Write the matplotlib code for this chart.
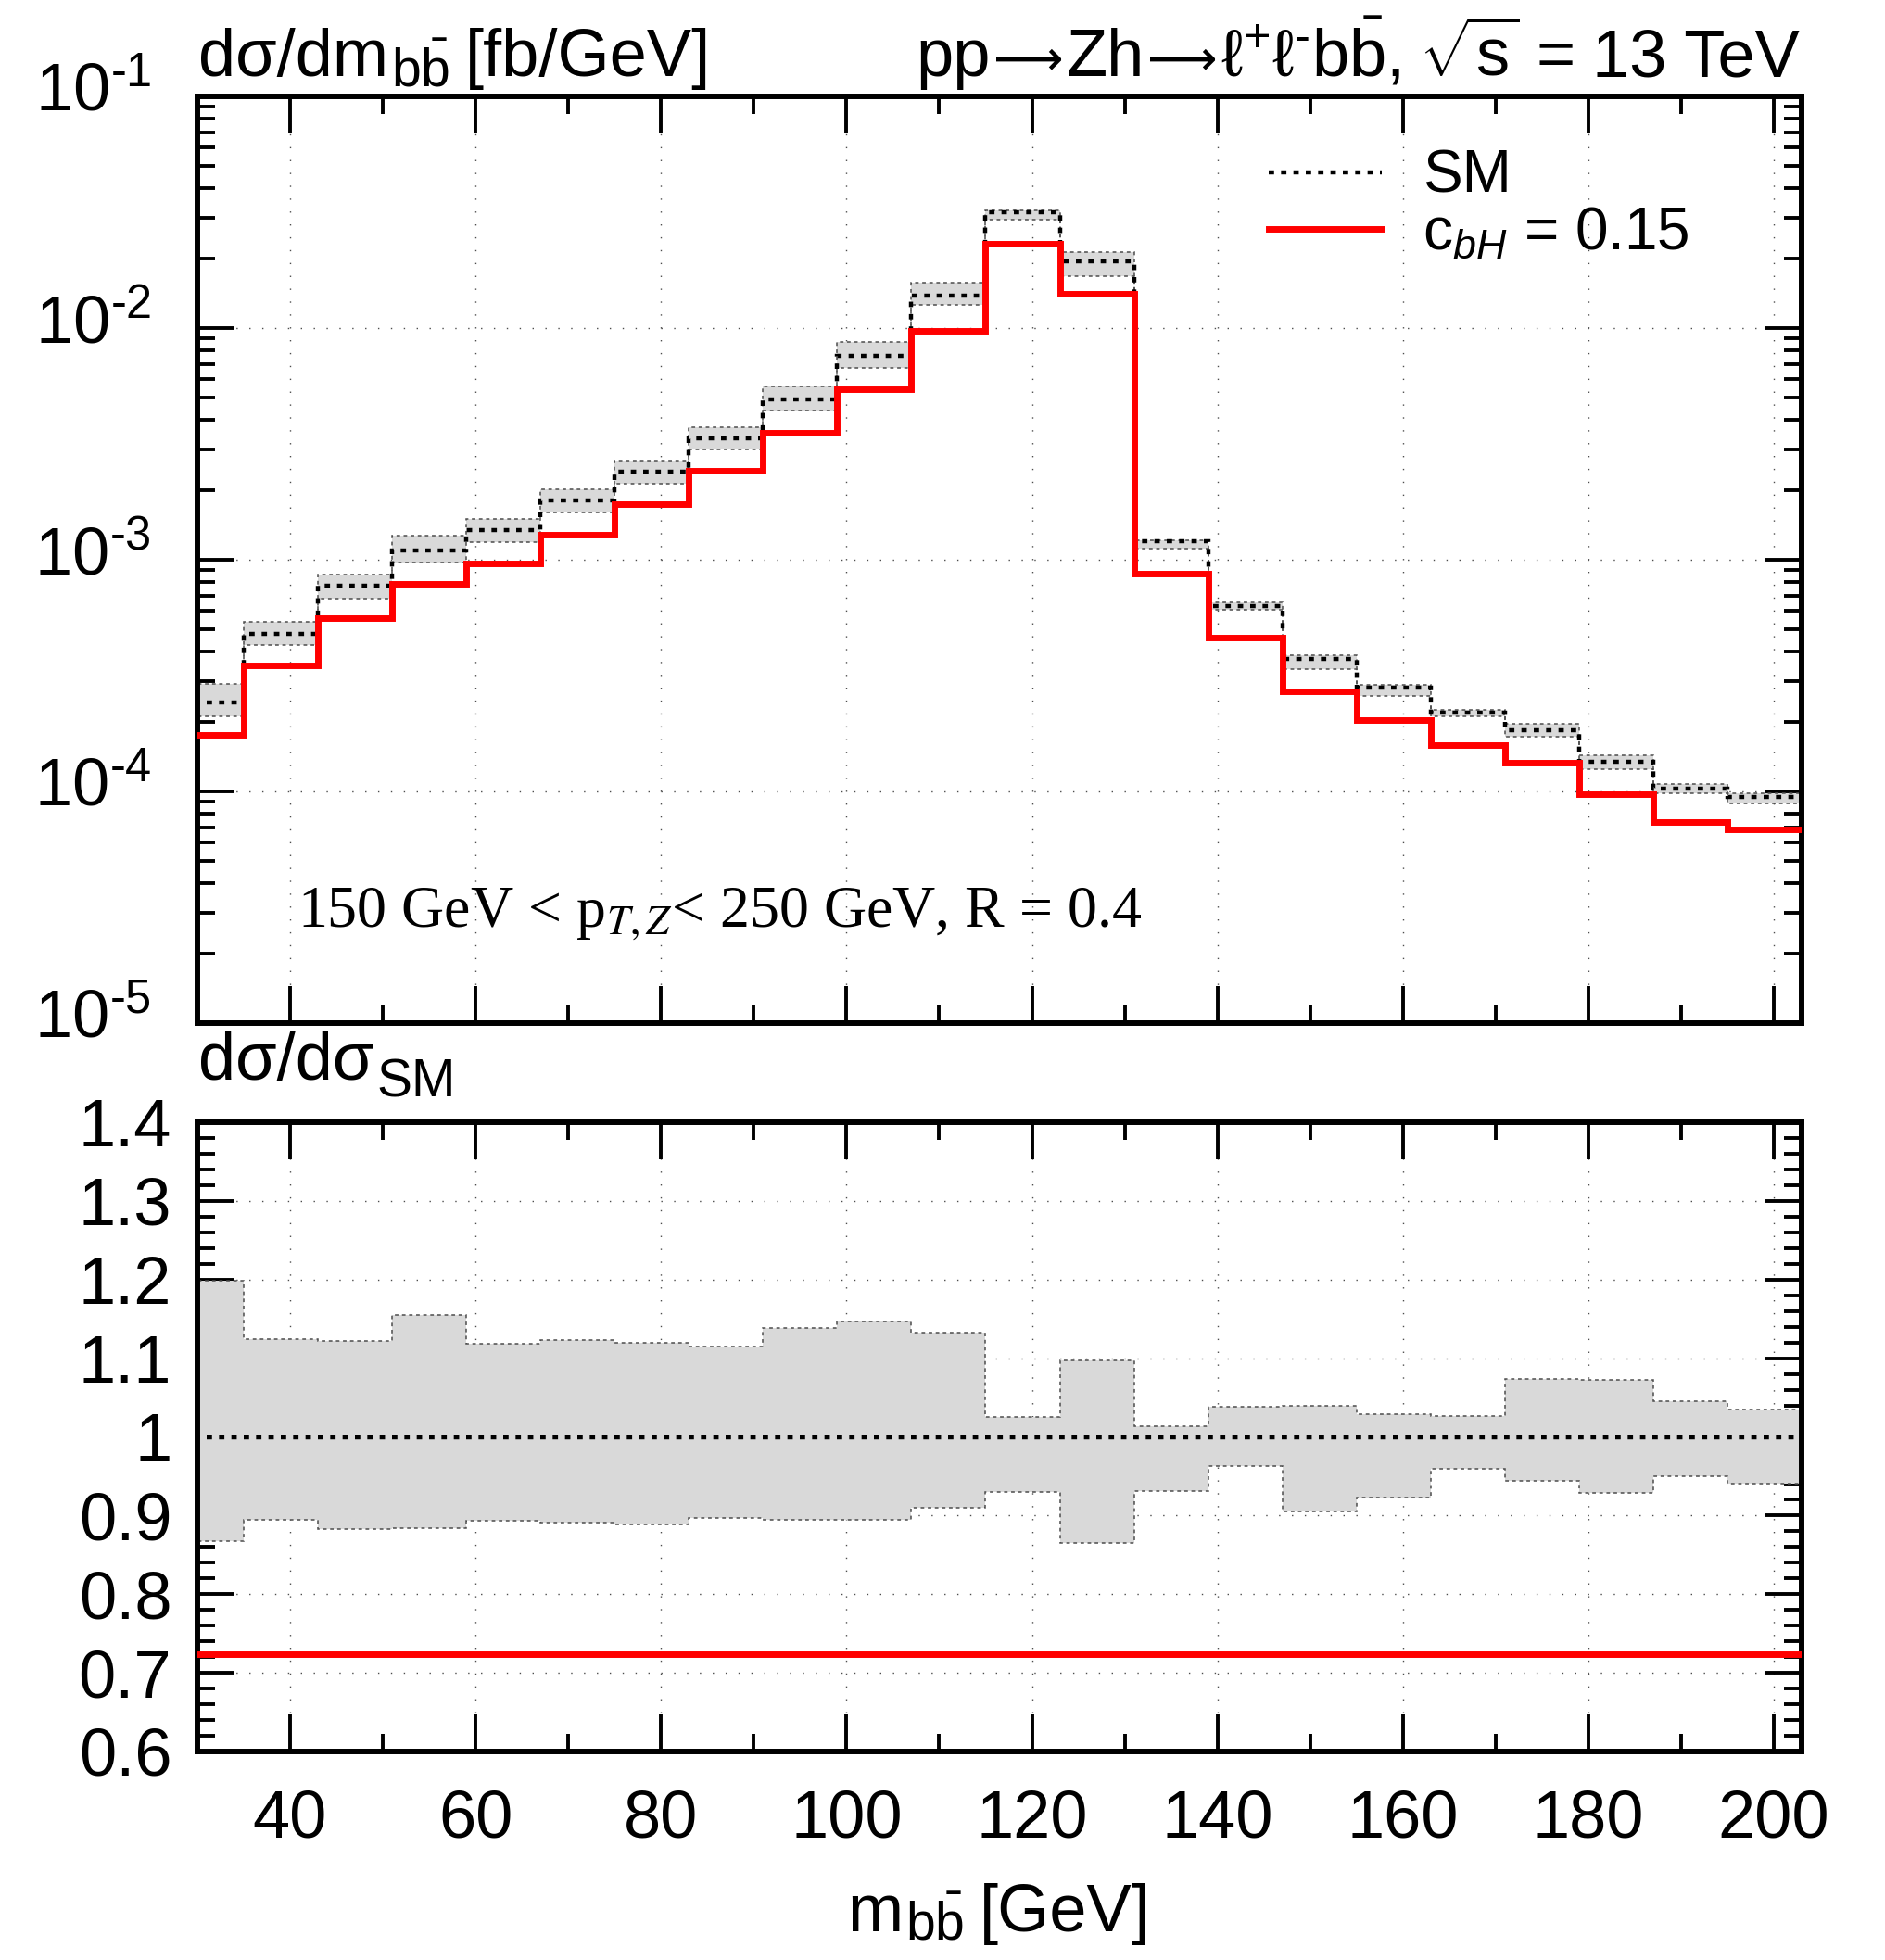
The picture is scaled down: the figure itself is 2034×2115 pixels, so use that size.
import numpy as np
import matplotlib
matplotlib.use("Agg")
import matplotlib.pyplot as plt
import matplotlib.transforms as mtransforms
from matplotlib.ticker import MultipleLocator, LogLocator, FuncFormatter, NullFormatter
from matplotlib.lines import Line2D

plt.rcParams['font.family'] = ['Liberation Sans', 'DejaVu Sans']
plt.rcParams['mathtext.fontset'] = 'custom'
plt.rcParams['mathtext.rm'] = 'Liberation Sans'
plt.rcParams['mathtext.it'] = 'Liberation Sans:italic'
plt.rcParams['mathtext.bf'] = 'Liberation Sans:bold'

# bin edges of m_bb [GeV], 8 GeV bins
edges = [27, 35, 43, 51, 59, 67, 75, 83, 91, 99, 107, 115, 123, 131, 139, 147, 155, 163, 171, 179, 187, 195, 203]

# SM central value [fb/GeV]
sm = [2.42e-4, 4.79e-4, 7.70e-4, 1.10e-3, 1.34e-3, 1.80e-3, 2.40e-3, 3.34e-3, 4.92e-3, 7.56e-3, 1.38e-2,
      3.15e-2, 1.945e-2, 1.20e-3, 6.31e-4, 3.73e-4, 2.80e-4, 2.19e-4, 1.83e-4, 1.34e-4, 1.03e-4, 9.46e-5]

# c_bH = 0.15 [fb/GeV]
cbh = [1.75e-4, 3.49e-4, 5.58e-4, 7.90e-4, 9.60e-4, 1.28e-3, 1.73e-3, 2.41e-3, 3.53e-3, 5.46e-3, 9.76e-3,
       2.31e-2, 1.41e-2, 8.69e-4, 4.60e-4, 2.70e-4, 2.03e-4, 1.59e-4, 1.33e-4, 9.76e-5, 7.40e-5, 6.85e-5]

# scale uncertainty band, relative to SM
band_up = [1.199, 1.124, 1.122, 1.155, 1.118, 1.123, 1.120, 1.115, 1.139, 1.147, 1.133,
           1.025, 1.097, 1.013, 1.038, 1.040, 1.029, 1.026, 1.074, 1.072, 1.045, 1.035]
band_dn = [0.868, 0.895, 0.883, 0.884, 0.893, 0.891, 0.889, 0.897, 0.894, 0.894, 0.910,
           0.930, 0.865, 0.931, 0.963, 0.905, 0.923, 0.959, 0.944, 0.929, 0.950, 0.940]

# ratio c_bH / SM
cbh_ratio = [0.724] * 22
sm_ratio = [1.0] * 22

ytick_vals = [1e-5, 1e-4, 1e-3, 1e-2, 1e-1]
ytick_labels = [r'$10^{\text{-}5}$', r'$10^{\text{-}4}$', r'$10^{\text{-}3}$',
                r'$10^{\text{-}2}$', r'$10^{\text{-}1}$']

edges = np.array(edges)
sm = np.array(sm)
up_abs = sm * np.array(band_up)
dn_abs = sm * np.array(band_dn)

W, H = 2034, 2115
fig = plt.figure(figsize=(W / 100, H / 100), dpi=100)
ax1 = fig.add_axes([213 / W, 1 - 1104 / H, 1731 / W, 1000 / H])
ax2 = fig.add_axes([213 / W, 1 - 1890 / H, 1731 / W, 679 / H])

band_col = '#d9d9d9'
edge_kw = dict(color='0.3', lw=1.1, ls=(0, (2.5, 2.5)), baseline=None)
sm_style = (0, (1.3, 1.7))
grid_kw = dict(ls=(0, (1, 9)), lw=1.0, color='0.3')

# top panel
ax1.stairs(up_abs, edges, baseline=dn_abs, fill=True, color=band_col, lw=0, zorder=1)
ax1.stairs(up_abs, edges, zorder=2, **edge_kw)
ax1.stairs(dn_abs, edges, zorder=2, **edge_kw)
ax1.stairs(sm, edges, baseline=None, color='k', lw=3.2, ls=sm_style, zorder=3)
ax1.stairs(cbh, edges, baseline=None, color='red', lw=5, zorder=4)
ax1.set_yscale('log')
ax1.set_ylim(1e-5, 1e-1)
ax1.set_xlim(30, 203)

# ratio panel
ax2.stairs(band_up, edges, baseline=band_dn, fill=True, color=band_col, lw=0, zorder=1)
ax2.stairs(band_up, edges, zorder=2, **edge_kw)
ax2.stairs(band_dn, edges, zorder=2, **edge_kw)
ax2.stairs(sm_ratio, edges, baseline=None, color='k', lw=3.2, ls=sm_style, zorder=3)
ax2.stairs(cbh_ratio, edges, baseline=None, color='red', lw=5, zorder=4)
ax2.set_xlim(30, 203)
ax2.set_ylim(0.6, 1.4)

for ax in (ax1, ax2):
    ax.set_axisbelow(True)
    ax.grid(True, which='major', **grid_kw)
    ax.xaxis.set_major_locator(MultipleLocator(20))
    ax.xaxis.set_minor_locator(MultipleLocator(10))
    ax.tick_params(which='major', direction='in', length=29, width=2.8,
                   top=True, right=True, labelsize=52)
    ax.tick_params(which='minor', direction='in', length=14, width=2.8,
                   top=True, right=True)
    for s in ax.spines.values():
        s.set_linewidth(4.3)

ax1.set_yticks(ytick_vals, ytick_labels)
ax1.yaxis.set_minor_locator(LogLocator(base=10, subs=np.arange(2, 10), numticks=20))
ax1.yaxis.set_minor_formatter(NullFormatter())
ax1.tick_params(axis='x', labelbottom=False)
ax1.tick_params(axis='y', pad=36)
up = mtransforms.ScaledTranslation(0, 8 / 72, fig.dpi_scale_trans)
for lab in ax1.get_yticklabels():
    lab.set_transform(lab.get_transform() + up)

ax2.yaxis.set_major_locator(MultipleLocator(0.1))
ax2.yaxis.set_minor_locator(MultipleLocator(0.02))
ax2.yaxis.set_major_formatter(FuncFormatter(lambda v, p: '%g' % round(v, 2)))
ax2.tick_params(axis='y', pad=20)
ax2.tick_params(axis='x', pad=29)

# legend
handles = [Line2D([], [], color='k', lw=3.2, ls=sm_style),
           Line2D([], [], color='red', lw=5)]
ax1.legend(handles, ['SM', r'c$_{bH}$ = 0.15'], loc='upper left',
           bbox_to_anchor=(0.668, 0.943), frameon=False, fontsize=46,
           handlelength=1.9, handletextpad=0.7, labelspacing=0.02,
           borderpad=0, borderaxespad=0)

ax1.text(0.0624, 0.104, r'150 GeV < p$_{T,Z}$< 250 GeV, R = 0.4', transform=ax1.transAxes,
         family='Liberation Serif', math_fontfamily='stix', fontsize=46, va='baseline')


def rich_text(x, y, parts, ha='left'):
    # parts: (text, fontsize, shift down in px, gap before in px[, family]); x, y in pixels from top-left
    r = fig.canvas.get_renderer()
    items = []
    for p in parts:
        s, fs, dy, gap = p[:4]
        kw = {'family': p[4]} if len(p) > 4 else {}
        t = fig.text(0, 0, s, fontsize=fs, va='baseline', ha='left', **kw)
        items.append((t, t.get_window_extent(renderer=r).width, dy, gap))
    total = sum(w + g for _, w, _, g in items)
    cx = x - total if ha == 'right' else (x - total / 2 if ha == 'center' else x)
    for t, w, dy, g in items:
        cx += g
        t.set_position((cx / W, 1 - (y + dy) / H))
        cx += w


bbar = r'$\mathrm{b\bar{b}}$'
rich_text(214, 82, [('dσ/dm', 52, 0, 0), (bbar, 41, 12, 3), ('[fb/GeV]', 52, 0, 17)])
rich_text(214, 1165, [('dσ/dσ', 52, 0, 0), ('SM', 41, 18, 3)])
rich_text(1078, 2084, [('m', 52, 0, 0), (bbar, 41, 10, 3), ('[GeV]', 52, 0, 17)], ha='center')

rich_text(1942, 82, [('pp', 52, 0, 0), ('⟶', 38, -2, 3, 'DejaVu Sans'), ('Zh', 52, 0, 3),
                     ('⟶', 38, -2, 3, 'DejaVu Sans'),
                     (r'ℓ$^{+}$ℓ$^{\text{-}}$b$\bar{\mathrm{b}}$,', 52, 0, 3),
                     (r'$\sqrt{\mathrm{s}}$', 52, 0, 20), ('=', 52, 0, 18), ('13 TeV', 52, 0, 18)],
          ha='right')

fig.savefig('out.png', dpi=100)
